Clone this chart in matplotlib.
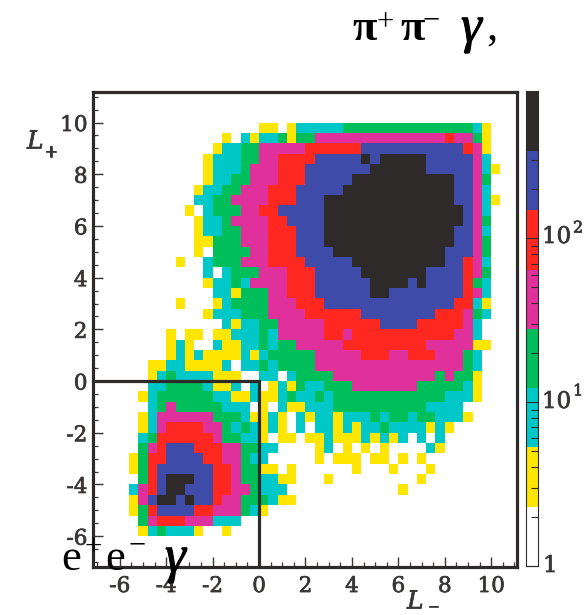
import numpy as np
import matplotlib
matplotlib.use("Agg")
import matplotlib.pyplot as plt
import matplotlib.patheffects as pe
from matplotlib.colors import BoundaryNorm, ListedColormap
from matplotlib.ticker import MultipleLocator, LogLocator, NullFormatter

# colour-scale boundaries (events per bin) and colours
level_edges = [1, 2.3, 5.3, 12.2, 28, 64, 148, 340, 790]
level_colors = ['#FFFFFF', '#FFE600', '#00C8C8', '#00BE5A', '#E0309C', '#FF2820', '#3E4BA8', '#2E2A2A']
# representative counts per colour band
band_counts = {'_': 0, 'Y': 3.5, 'C': 8, 'G': 18, 'M': 42, 'R': 97, 'B': 224, 'K': 500}
bin_width = 0.4
x_ticks = [-6, -4, -2, 0, 2, 4, 6, 8, 10]
y_ticks = [-6, -4, -2, 0, 2, 4, 6, 8, 10]

# 2D histogram: row index j -> (first column index i, run-length coded bands)
rows = {
    24: (0, "Y2 _1 Y1 C5 G14 C1 Y1"),
    23: (-4, "Y1 _1 C1 Y1 C2 G1 Y1 G2 M14 R1 M2 G1 Y1"),
    22: (-5, "Y1 C2 G2 M5 R6 B11 R1 M1 Y1"),
    21: (-6, "Y1 C3 G2 M2 R4 B5 K1 B1 K5 B5 M1 C1"),
    20: (-6, "Y1 C3 G1 M3 R3 B7 K6 B5 M1 C1 Y1"),
    19: (-6, "Y1 C2 G2 M3 R3 B5 K11 B2 M1 G1"),
    18: (-7, "Y1 C2 G2 M3 R3 B5 K12 B2 M1 C1"),
    17: (-7, "C2 G2 M4 R3 B3 K14 B2 M1 C1 Y1"),
    16: (-8, "Y1 _1 C1 G3 M2 R2 B5 K15 B1 M1 C1"),
    15: (-7, "Y1 C2 G1 M4 R2 B4 K15 B1 M1 G1"),
    14: (-7, "Y1 C2 G2 M3 R3 B3 K14 B2 M1 C1"),
    13: (-7, "Y2 G3 M3 R3 B3 K14 B2 M1 G1"),
    12: (-7, "Y1 _1 G4 M2 R3 B4 K12 B3 M1 G1"),
    11: (-9, "Y1 _2 C1 G3 M3 R4 B5 K10 B2 R1 M1 C1"),
    10: (-6, "C1 _1 C1 G3 M3 R3 B5 K7 B4 R1 M1 G1"),
    9: (-6, "Y1 C2 G1 C1 M4 R3 B6 K4 B1 K1 B4 R1 G1 C1"),
    8: (-5, "C2 Y1 G3 M2 R3 B6 K2 B8 R1 M1 C1"),
    7: (-9, "Y1 _3 Y1 C1 G4 M3 R3 B14 R2 C1 Y1"),
    6: (-6, "Y1 C3 G3 M4 R6 B8 R3 M1 G1 C1"),
    5: (-4, "C1 Y1 C2 G2 M5 R6 B4 R5 M1 C1"),
    4: (-10, "Y1 _1 Y2 _1 Y2 C3 G1 C1 M5 R2 M1 R11 M2 C1"),
    3: (-10, "Y1 C1 Y1 _2 C1 Y2 C2 G1 C1 G2 M5 R9 M5 Y2"),
    2: (-10, "Y1 C1 Y1 C1 Y4 C1 Y1 C1 G5 M5 R3 M2 R3 M3 G1 C1"),
    1: (-12, "Y2 C2 Y4 C1 _1 C2 G1 C1 G4 M16 G1 C1"),
    0: (-12, "Y1 C1 G1 C4 Y3 _2 C2 _1 C1 G4 M11 G1 M1 G2 Y1"),
    -1: (-12, "C2 G4 C1 Y2 C1 _1 C1 _1 Y1 C1 Y1 G1 C2 G3 M7 G5 C1 Y1"),
    -2: (-13, "Y1 C1 G6 C2 Y2 C1 Y2 C1 G1 C2 G1 C1 G12 C3 Y1"),
    -3: (-12, "C1 G1 M1 G5 C3 _1 Y1 _1 C1 Y2 C3 G10 C4"),
    -4: (-13, "Y1 C1 M6 G3 C1 Y2 C1 Y1 _1 C1 Y1 C2 Y1 C3 G1 C1 G2 C1 G2 C3 Y1"),
    -5: (-13, "Y1 C1 M1 R4 M2 G1 C1 G1 C1 Y1 C1 Y1 _1 C1 _1 C2 Y1 C1 Y1 C2 G1 C4 Y1 C1 Y1"),
    -6: (-13, "C1 G1 R6 M1 G2 C2 Y1 _1 Y2 _1 Y2 C1 Y3 C1 Y1 C1 Y1 C1 _1 C1 _1 C1"),
    -7: (-13, "G1 M1 R1 B3 R3 M2 G2 C2 _4 Y1 C1 _1 Y1 _1 Y1 _1 Y1 _4 C1 Y1"),
    -8: (-14, "Y1 G1 R2 B4 R2 M2 G1 C2 _5 Y1 _1 Y3 _1 Y2 _1 Y1 _1 Y1"),
    -9: (-14, "Y1 G1 R1 B6 R2 M1 G2 Y2 _1 Y1 _6 Y1 _3 Y1 _3 Y1"),
    -10: (-13, "G1 R1 B1 K3 B2 R2 M1 G2 C2 Y2 _3 Y1 _9 Y1"),
    -11: (-14, "C1 M1 R1 B1 K2 B3 R2 M2 G1 C3 _12 Y1"),
    -12: (-14, "Y1 M1 B1 K2 B1 K1 B2 R1 M2 G3 C1 Y2"),
    -13: (-14, "Y1 G1 R1 B4 R2 M3 G1 C1 Y1"),
    -14: (-13, "G1 M1 R3 M3 C3"),
    -15: (-13, "Y1 C1 G1 C3 Y1 _2 Y1"),
}

i_min, i_max, j_min, j_max = -16, 26, -16, 25
counts = np.zeros((j_max - j_min, i_max - i_min))
for j, (start, code) in rows.items():
    i = start
    for tok in code.split():
        n = int(tok[1:])
        counts[j - j_min, i - i_min:i - i_min + n] = band_counts[tok[0]]
        i += n
counts = np.ma.masked_less(counts, 1)
xe = np.arange(i_min, i_max + 1) * bin_width
ye = np.arange(j_min, j_max + 1) * bin_width

W, H = 588, 615
fig = plt.figure(figsize=(W / 100, H / 100), dpi=100, facecolor='white')
dark = '#2E2A2A'
tcol = '#3A3636'
serif = 'DejaVu Serif'
times = 'Liberation Serif'
heavy = [pe.withStroke(linewidth=0.5, foreground=tcol)]

def axpx(l, t, r, b):
    return fig.add_axes([l / W, 1 - b / H, (r - l) / W, (b - t) / H])

ax = axpx(93, 91.5, 516.7, 566.7)
cmap = ListedColormap(level_colors)
norm = BoundaryNorm(level_edges, cmap.N)
ax.pcolormesh(xe, ye, counts, cmap=cmap, norm=norm, linewidth=0)
ax.set_xlim(-7.155, 11.1)
ax.set_ylim(-7.18, 11.2)
for s in ax.spines.values():
    s.set_linewidth(2.3)
    s.set_color(dark)
ax.xaxis.set_minor_locator(MultipleLocator(0.5))
ax.yaxis.set_minor_locator(MultipleLocator(0.5))
ax.set_xticks(x_ticks)
ax.set_yticks(y_ticks)
ax.tick_params(which='major', direction='in', length=7, width=1.0, color=tcol)
ax.tick_params(which='minor', direction='in', length=3.5, width=0.9, color=tcol)
ax.set_xticklabels([str(v) for v in x_ticks], family=serif, fontsize=15.5, color=tcol, path_effects=heavy)
ax.set_yticklabels([str(v) for v in y_ticks], family=serif, fontsize=15.5, color=tcol, path_effects=heavy)
ax.tick_params(axis='x', pad=6)
ax.tick_params(axis='y', pad=4)
ax.plot([-7.155, 0, 0], [0, 0, -7.18], color=dark, lw=2.3, solid_joinstyle='miter', zorder=5)

# colour bar
cax = axpx(525.5, 91, 538, 566)
cb_y = np.array(level_edges)
cax.pcolormesh([0, 1], cb_y, np.array(level_edges[:-1])[:, None] * 1.01, cmap=cmap, norm=norm)
cax.set_yscale('log')
cax.set_ylim(1, 790)
cax.set_xlim(0, 1)
cax.set_xticks([])
cax.yaxis.tick_right()
cax.yaxis.set_major_locator(LogLocator(base=10, numticks=5))
cax.yaxis.set_minor_locator(LogLocator(base=10, subs=range(2, 10), numticks=10))
cax.yaxis.set_minor_formatter(NullFormatter())
cax.yaxis.set_major_formatter(NullFormatter())
cax.tick_params(which='major', direction='in', length=9, width=0.8, color=dark)
cax.tick_params(which='minor', direction='in', length=5, width=0.8, color=dark)
for s in cax.spines.values():
    s.set_linewidth(0.8)
    s.set_color(dark)

def txt(x, y, s, **kw):
    return fig.text(x / W, 1 - y / H, s, **kw)

cb_kw = dict(family=serif, color=tcol, ha='left', va='center', path_effects=heavy)
txt(543, 566, '1', fontsize=16.5, **cb_kw)
txt(542, 402, '10', fontsize=16.5, **cb_kw)
txt(573, 391, '1', fontsize=11.5, **cb_kw)
txt(542, 237, '10', fontsize=16.5, **cb_kw)
txt(573, 228, '2', fontsize=11.5, **cb_kw)

lab_kw = dict(family=serif, color=tcol, ha='left', va='center', path_effects=heavy)
txt(27, 142, 'L', style='italic', fontsize=18, **lab_kw)
txt(44, 152, '+', fontsize=12, **lab_kw)
txt(407, 602, 'L', style='italic', fontsize=18, **lab_kw)
txt(427, 607, '\u2212', fontsize=11, **lab_kw)

# large annotations, placed piece by piece
big = dict(family=times, fontsize=32, color='black', ha='left', va='baseline')
gam = dict(family=times, fontsize=38, color='black', ha='left', va='baseline',
           style='italic', path_effects=[pe.withStroke(linewidth=0.7, foreground='black')])
sup = dict(family=times, fontsize=22, color='black', ha='left', va='baseline')
txt(352, 40, '\u03c0', fontweight='bold', **big)
txt(376, 30, '+', **sup)
txt(400, 40, '\u03c0', fontweight='bold', **big)
txt(423, 28, '\u2212', **sup)
txt(461, 42, '\u03b3', **gam)
txt(486, 40, ',', **big)

txt(61, 570, 'e', **big)
txt(84, 555, '+', **sup)
txt(105, 570, 'e', **big)
txt(128, 553, '\u2212', **sup)
txt(165, 572, '\u03b3', **gam)

fig.savefig('out.png', dpi=100, facecolor='white')
